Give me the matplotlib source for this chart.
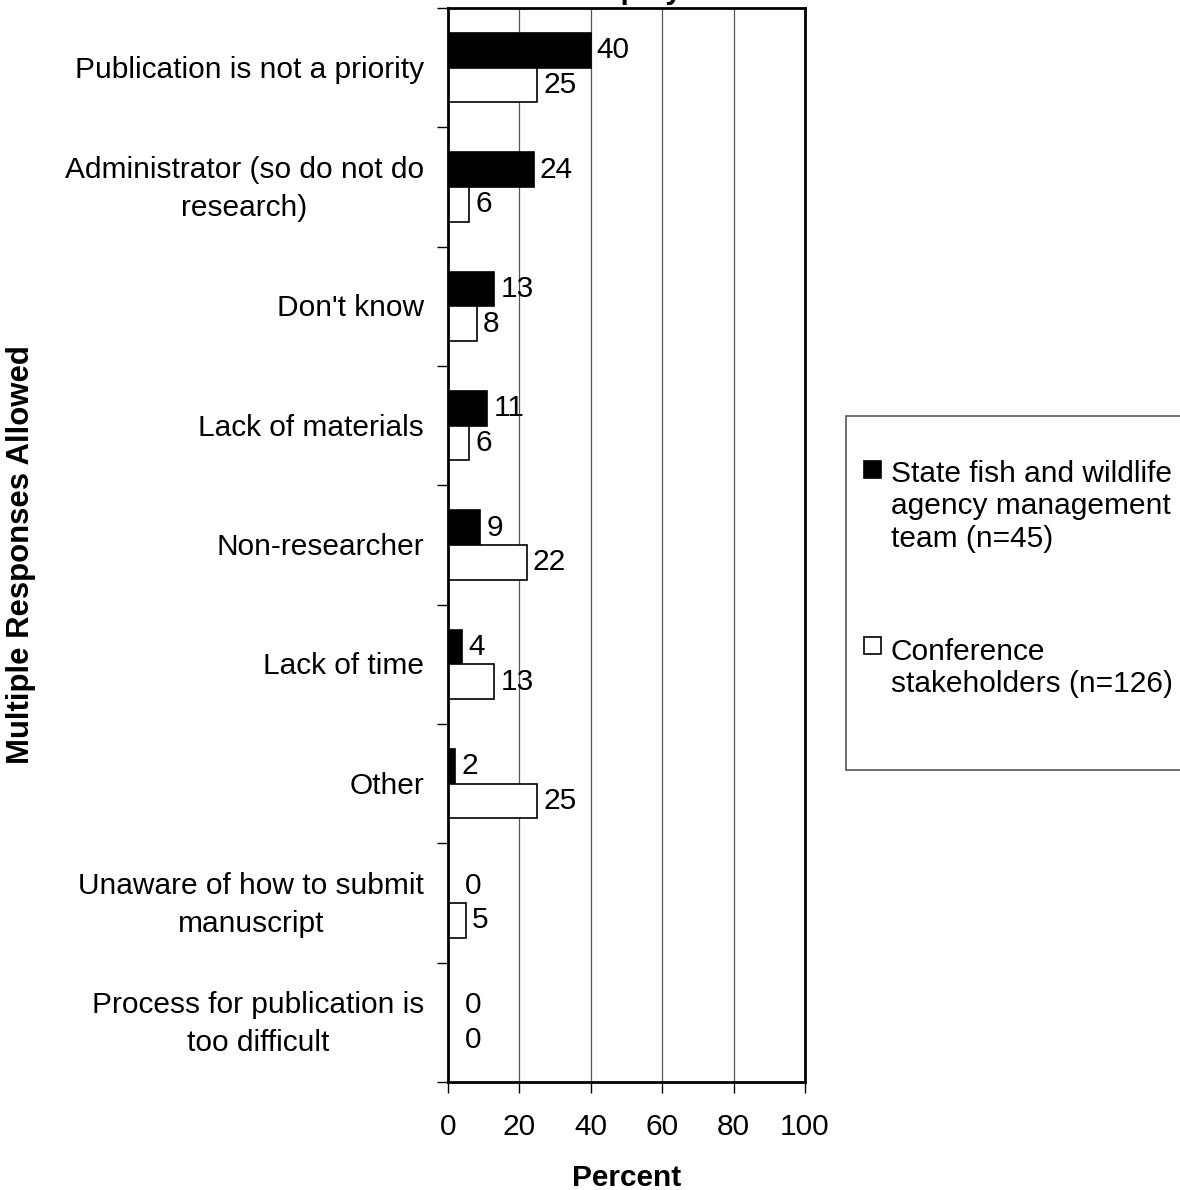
import matplotlib
matplotlib.use("Agg")
import matplotlib.pyplot as plt
import numpy as np
from matplotlib.patches import Rectangle

categories = ["Publication is not a priority",
              "Administrator (so do not do\nresearch)",
              "Don't know",
              "Lack of materials",
              "Non-researcher",
              "Lack of time",
              "Other",
              "Unaware of how to submit\nmanuscript",
              "Process for publication is\ntoo difficult"]
state_agency = [40, 24, 13, 11, 9, 4, 2, 0, 0]
stakeholders = [25, 6, 8, 6, 22, 13, 25, 5, 0]
series_names = ["State fish and wildlife\nagency management\nteam (n=45)",
                "Conference\nstakeholders (n=126)"]
series_colors = ['black', 'white']
xticks = [0, 20, 40, 60, 80, 100]

plt.rcParams['font.family'] = ['Liberation Sans', 'DejaVu Sans']
fs = 21.5
W, H = 1180, 1190

fig = plt.figure(figsize=(W/100, H/100), dpi=100)
ax = fig.add_axes([448/W, 1-1082/H, (805-448)/W, (1082-8)/H])

n = len(categories)
y = np.arange(n)
h = 0.29
ax.barh(y - h/2, state_agency, height=h, color=series_colors[0], edgecolor='black', linewidth=1.2, zorder=3)
ax.barh(y + h/2, stakeholders, height=h, color=series_colors[1], edgecolor='black', linewidth=1.2, zorder=3)

for i in range(n):
    for val, yy in ((state_agency[i], y[i] - h/2), (stakeholders[i], y[i] + h/2)):
        off = 6 if val > 0 else 17
        ax.annotate(str(val), (val, yy), xytext=(off, 0), textcoords='offset pixels',
                    ha='left', va='center', fontsize=fs, zorder=4)

ax.set_xlim(0, 100)
ax.set_ylim(n - 0.5, -0.5)
ax.set_xticks(xticks)
ax.set_xticklabels([str(t) for t in xticks], fontsize=fs)
ax.tick_params(axis='x', direction='out', length=8, width=1, pad=14, colors='black')
ax.set_yticks(np.arange(n + 1) - 0.5)
ax.set_yticklabels([''] * (n + 1))
ax.tick_params(axis='y', direction='out', length=8, width=1)
for i, c in enumerate(categories):
    ax.annotate(c, (0, y[i]), xycoords=ax.get_yaxis_transform(), xytext=(-24, -2),
                textcoords='offset pixels', ha='right', va='center',
                fontsize=fs, multialignment='center', linespacing=1.45)
ax.xaxis.grid(True, color='#555555', linewidth=0.9, zorder=0)
ax.set_axisbelow(True)
for s in ax.spines.values():
    s.set_linewidth(2)
    s.set_zorder(5)

ax.set_xlabel("Percent", fontsize=fs, fontweight='bold', labelpad=17)
fig.text(21/W, 1-555/H, "Multiple Responses Allowed", rotation=90, ha='center', va='center',
         fontsize=22.4, fontweight='bold')

# title (cut off at the top of the figure, as in the reference)
fig.text(574/W, 1 + 1/H, "Employment", ha='left', va='baseline', fontsize=fs, fontweight='bold')

# legend drawn manually (markers aligned with first text line)
fig.patches.append(Rectangle((846/W, 1-770/H), (1200-846)/W, (770-416)/H, transform=fig.transFigure,
                             facecolor='white', edgecolor='#555555', linewidth=1.2, zorder=1))
entries_top = [461, 637]
text_shift = [-1, 1]
for name, col, top, sh in zip(series_names, series_colors, entries_top, text_shift):
    fig.patches.append(Rectangle((864/W, 1-(top+17)/H), 17/W, 17/H, transform=fig.transFigure,
                                 facecolor=col, edgecolor='black', linewidth=1.2, zorder=2))
    fig.text(891/W, 1-(top+sh)/H, name, ha='left', va='top', fontsize=fs, linespacing=1.2, zorder=3)

fig.savefig("out.png", dpi=100)
